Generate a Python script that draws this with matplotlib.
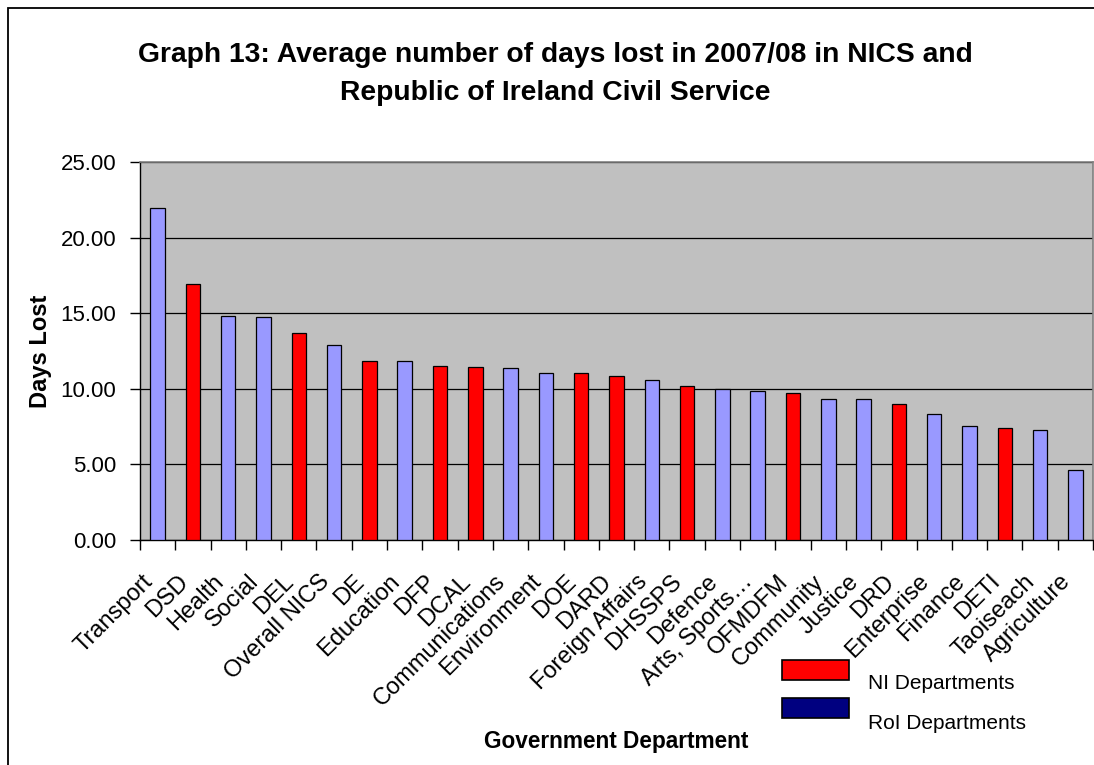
import matplotlib
matplotlib.use('Agg')

import numpy as np
from matplotlib import pyplot as plt
from matplotlib.patches import Rectangle
from matplotlib.transforms import ScaledTranslation

departments = ['Transport', 'DSD', 'Health', 'Social', 'DEL', 'Overall NICS', 'DE',
               'Education', 'DFP', 'DCAL', 'Communications', 'Environment', 'DOE',
               'DARD', 'Foreign Affairs', 'DHSSPS', 'Defence', 'Arts, Sports\u2026',
               'OFMDFM', 'Community', 'Justice', 'DRD', 'Enterprise', 'Finance',
               'DETI', 'Taoiseach', 'Agriculture']
days_lost = [21.94, 16.91, 14.84, 14.77, 13.67, 12.90, 11.82, 11.82, 11.51, 11.44,
             11.35, 11.04, 11.03, 10.87, 10.56, 10.16, 10.01, 9.87, 9.70, 9.32,
             9.32, 9.01, 8.32, 7.54, 7.39, 7.30, 4.66]
ni_departments = ['DSD', 'DEL', 'DE', 'DFP', 'DCAL', 'DOE', 'DARD', 'DHSSPS',
                  'OFMDFM', 'DRD', 'DETI']
y_ticks = [0, 5, 10, 15, 20, 25]

RED = '#FF0000'
LAVENDER = '#9999FF'
NAVY = '#000080'

W, H = 1094, 765
plt.rcParams['font.family'] = ['Liberation Sans', 'DejaVu Sans']

fig = plt.figure(figsize=(W / 100, H / 100), dpi=100)
ax = fig.add_axes([140 / W, 1 - 540 / H, (1093 - 140) / W, (540 - 162) / H])
ax.set_facecolor('#C0C0C0')

x = np.arange(len(departments))
colors = [RED if d in ni_departments else LAVENDER for d in departments]
ax.bar(x, days_lost, width=0.41, color=colors, edgecolor='black', linewidth=0.9, zorder=3)

ax.set_xlim(-0.5, len(departments) - 0.5)
ax.set_ylim(0, 25)
ax.set_yticks(y_ticks)
ax.set_yticklabels(['%.2f' % v for v in y_ticks], fontsize=16)
ax.yaxis.grid(True, color='black', linewidth=0.9, zorder=1)
ax.set_axisbelow(True)

# category boundary ticks, labels in the middle
ax.set_xticks(np.arange(len(departments) + 1) - 0.5)
ax.set_xticklabels([])
ax.set_xticks(x, minor=True)
ax.set_xticklabels(departments, minor=True, rotation=45, ha='right', va='top',
                   rotation_mode='anchor', fontsize=17)
ax.tick_params(axis='x', which='major', direction='out', length=7, width=1)
ax.tick_params(axis='x', which='minor', length=0, pad=22)
ax.tick_params(axis='y', direction='out', length=7, width=1, pad=10)
shift = ScaledTranslation(-16 / 100, 0, fig.dpi_scale_trans)
for lab in ax.get_xticklabels(minor=True):
    lab.set_transform(lab.get_transform() + shift)

for side in ('top', 'right'):
    ax.spines[side].set_color('#808080')
    ax.spines[side].set_linewidth(1.2)
for side in ('left', 'bottom'):
    ax.spines[side].set_color('black')
    ax.spines[side].set_linewidth(1)

# titles and axis labels
fig.text(555 / W, 1 - 61.7 / H, 'Graph 13: Average number of days lost in 2007/08 in NICS and',
         ha='center', va='baseline', fontsize=20.3, fontweight='bold')
fig.text(555 / W, 1 - 100 / H, 'Republic of Ireland Civil Service',
         ha='center', va='baseline', fontsize=20.3, fontweight='bold')
fig.text(40 / W, 1 - 351 / H, 'Days Lost', rotation=90, ha='center', va='center',
         fontsize=17, fontweight='bold')
fig.text(616.5 / W, 1 - 747.7 / H, 'Government Department', ha='center', va='baseline',
         fontsize=16.3, fontweight='bold')

# legend
for top, base, col, label in [(660, 689.3, RED, 'NI Departments'),
                              (698, 729.3, NAVY, 'RoI Departments')]:
    fig.patches.append(Rectangle((782 / W, 1 - (top + 19.5) / H), 67 / W, 19.5 / H,
                                 transform=fig.transFigure, facecolor=col,
                                 edgecolor='black', linewidth=1.2))
    fig.text(868 / W, 1 - base / H, label, ha='left', va='baseline', fontsize=15)

# chart border
fig.patches.append(Rectangle((8 / W, -0.05), 1.1, 1.05 - 8 / H, transform=fig.transFigure,
                             facecolor='none', edgecolor='black', linewidth=1.3,
                             clip_on=False))

plt.savefig('out.png', dpi=100)
